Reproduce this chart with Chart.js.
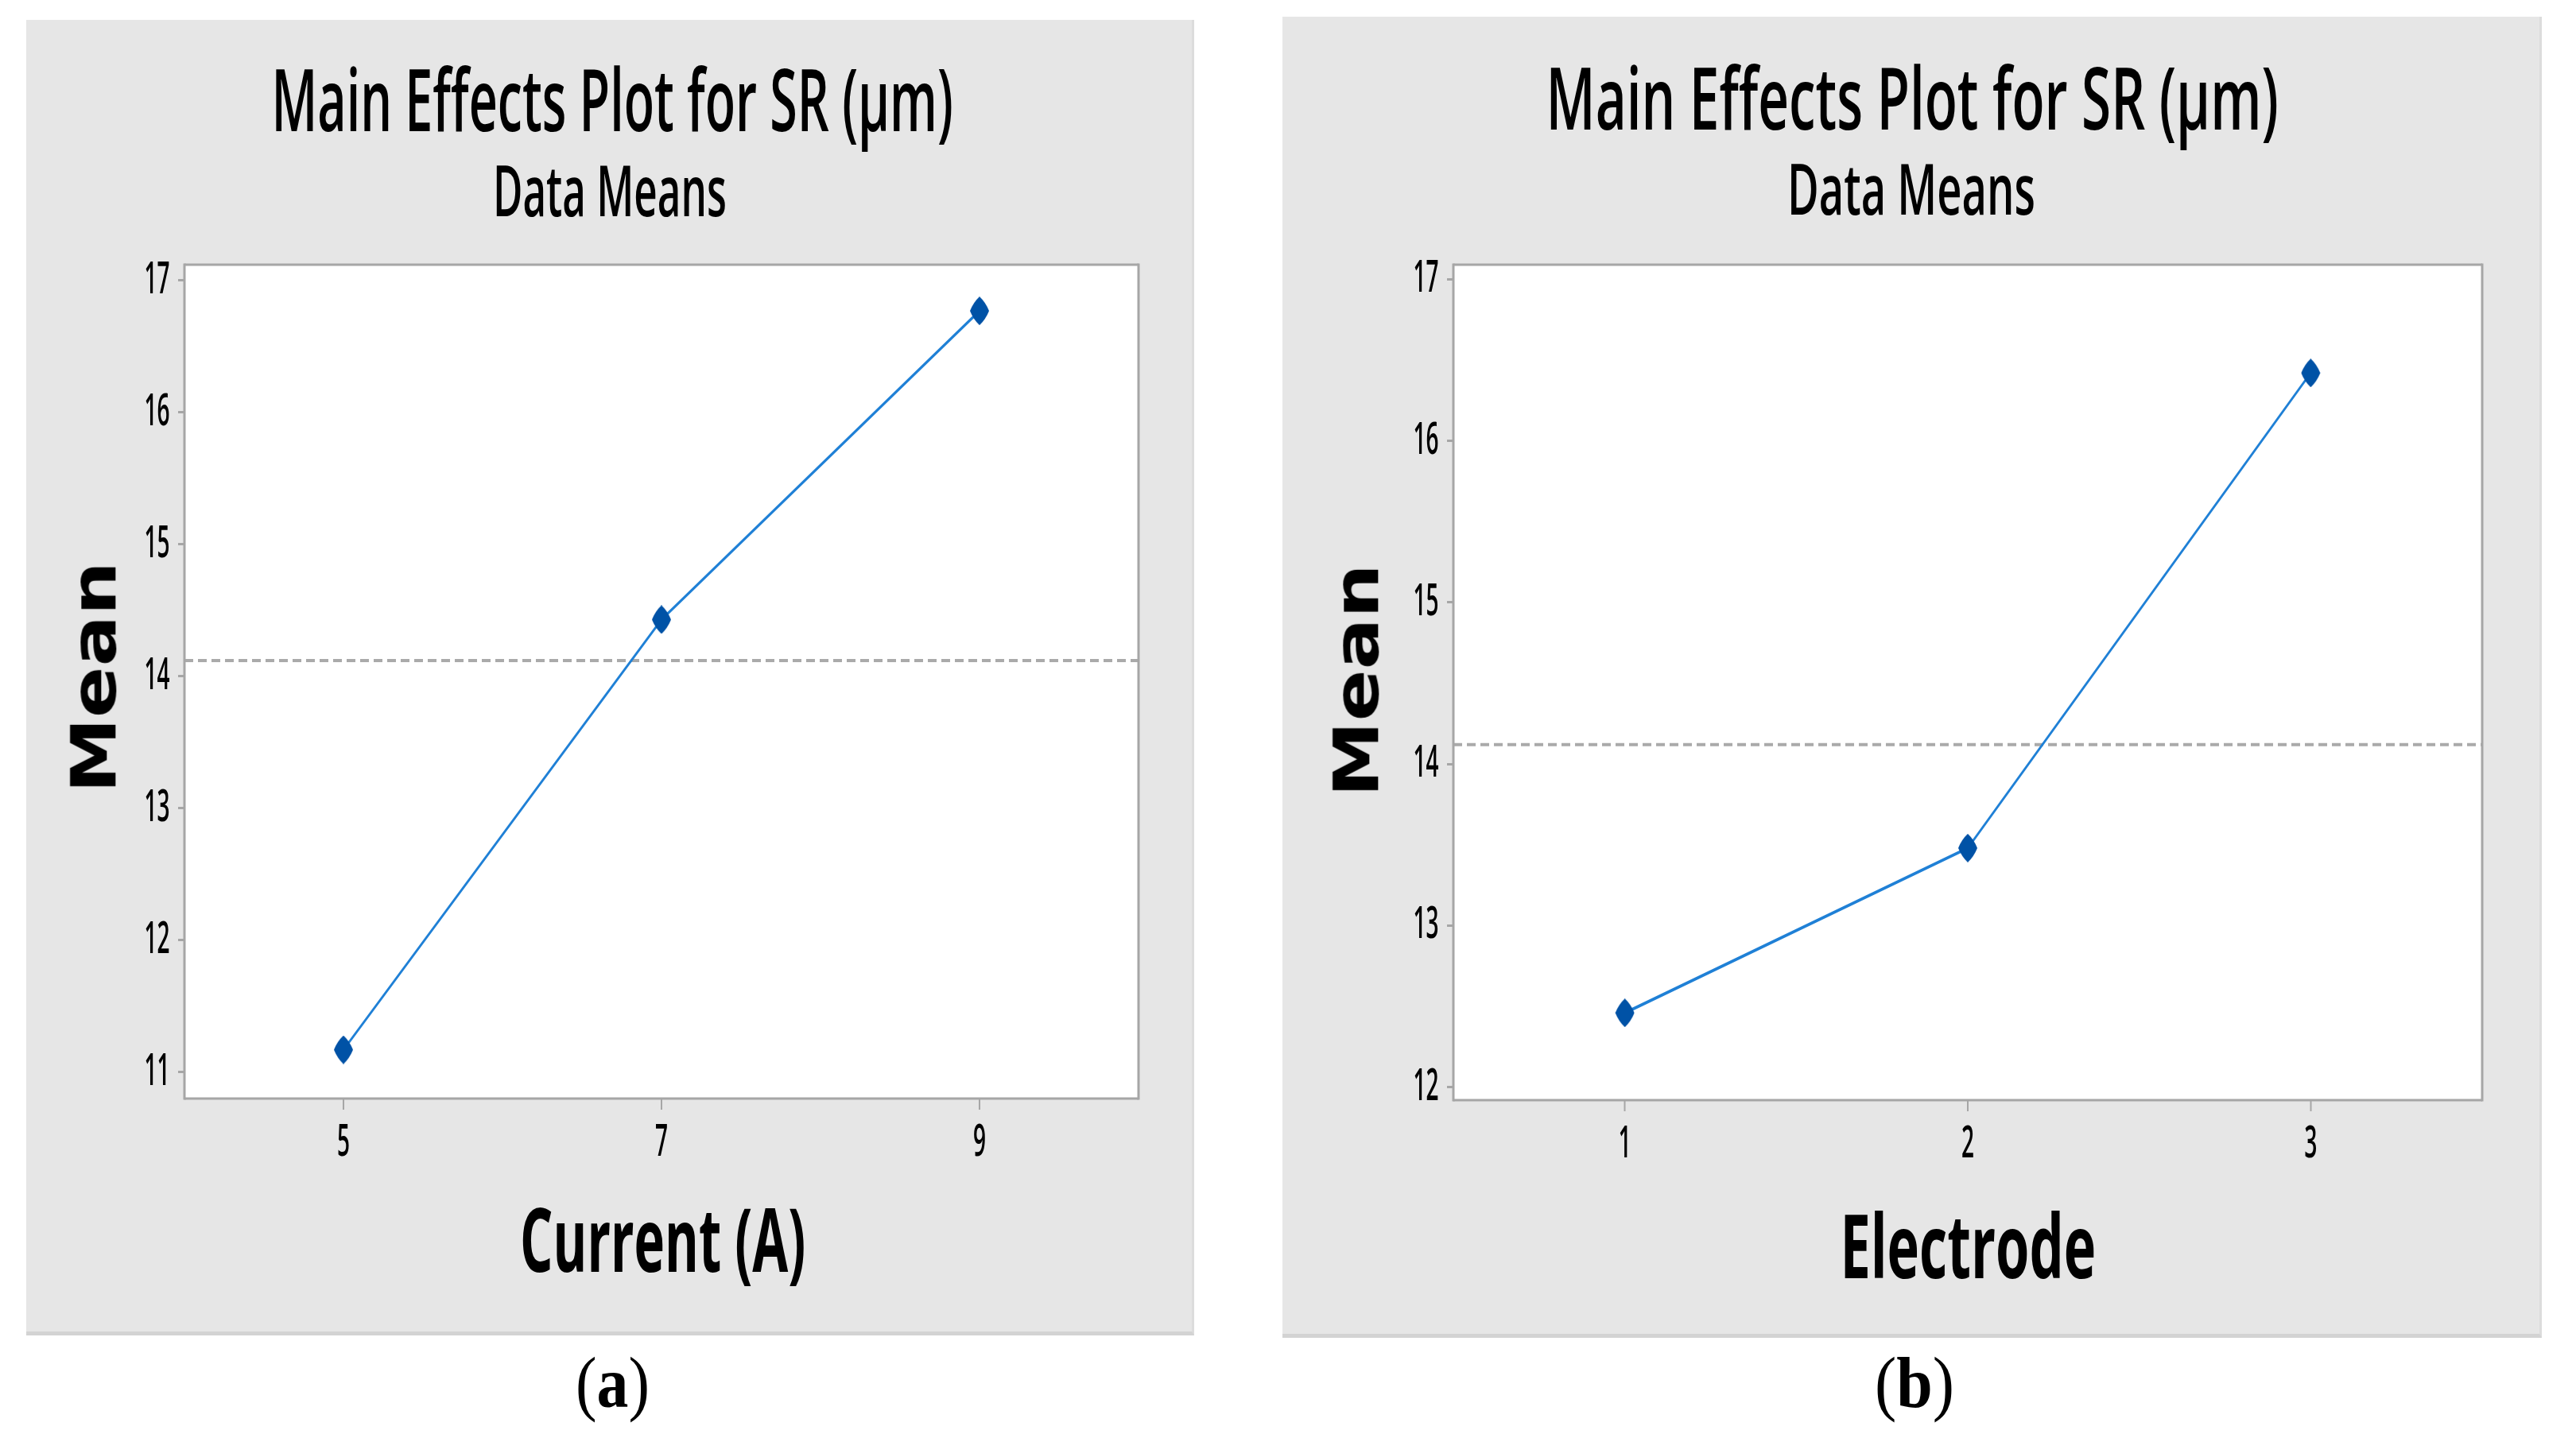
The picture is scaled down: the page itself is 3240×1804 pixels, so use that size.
<!DOCTYPE html>
<html><head><meta charset="utf-8">
<script src="https://cdn.jsdelivr.net/npm/chart.js@4.4.0/dist/chart.umd.min.js"></script>
<style>
html,body{margin:0;padding:0;background:#fff;}
body{width:3240px;height:1804px;position:relative;overflow:hidden;}
.panel{position:absolute;background:#e6e6e6;box-sizing:border-box;border-bottom:5px solid #d3d3d3;border-right:3px solid #dcdcdc;}
.txt{position:absolute;white-space:nowrap;line-height:1;color:#000;}
.cwrap{position:absolute;transform-origin:0 0;}
canvas{display:block;}
</style></head><body>
<div class="panel" style="left:33px;top:25px;width:1469px;height:1655px"></div>
<div class="panel" style="left:1613px;top:21px;width:1584px;height:1662px"></div>
<div class="cwrap" id="wa"><canvas id="ca"></canvas></div>
<div class="cwrap" id="wb"><canvas id="cb"></canvas></div>
<script>
// ---------------- data ----------------
const currentLevels = [5, 7, 9];
const srByCurrent = [11.17, 14.43, 16.77];
const electrodeLevels = [1, 2, 3];
const srByElectrode = [12.46, 13.48, 16.42];
const overallMean = 14.12;
const yTicksCurrent = [11, 12, 13, 14, 15, 16, 17];
const yTicksElectrode = [12, 13, 14, 15, 16, 17];
const titleText = 'Main Effects Plot for SR (\u03bcm)';
const subtitleText = 'Data Means';
const xTitleCurrent = 'Current (A)';
const xTitleElectrode = 'Electrode';
const yTitle = 'Mean';

// horizontal compression of chart canvases
const S = 0.5;

function diamondImage(wv, hv) {
  const c = document.createElement('canvas');
  const w = Math.round(wv / S), h = hv;
  c.width = w; c.height = h;
  const g = c.getContext('2d');
  g.fillStyle = '#0052a6';
  g.beginPath();
  g.moveTo(w / 2, 0);
  g.quadraticCurveTo(w * 0.82, h * 0.2, w, h / 2);
  g.quadraticCurveTo(w * 0.82, h * 0.8, w / 2, h);
  g.quadraticCurveTo(w * 0.18, h * 0.8, 0, h / 2);
  g.quadraticCurveTo(w * 0.18, h * 0.2, w / 2, 0);
  g.closePath();
  g.fill();
  return c;
}

const framePlugin = {
  id: 'frame',
  beforeDraw(chart) {
    const {ctx, chartArea: a} = chart;
    ctx.save();
    ctx.fillStyle = '#ffffff';
    ctx.fillRect(a.left, a.top, a.right - a.left, a.bottom - a.top);
    ctx.restore();
  },
  afterDraw(chart) {
    const {ctx, chartArea: a} = chart;
    ctx.save();
    ctx.strokeStyle = '#a6a6a6';
    ctx.lineWidth = 3;
    ctx.beginPath();
    ctx.moveTo(a.left, a.top); ctx.lineTo(a.right, a.top);
    ctx.moveTo(a.left, a.bottom); ctx.lineTo(a.right, a.bottom);
    ctx.stroke();
    ctx.lineWidth = 3 / S;
    ctx.beginPath();
    ctx.moveTo(a.left, a.top - 1.5); ctx.lineTo(a.left, a.bottom + 1.5);
    ctx.moveTo(a.right, a.top - 1.5); ctx.lineTo(a.right, a.bottom + 1.5);
    ctx.stroke();
    ctx.restore();
  }
};

function makeChart(canvasId, wrapId, o) {
  const wrap = document.getElementById(wrapId);
  wrap.style.left = o.L + 'px';
  wrap.style.top = o.T + 'px';
  wrap.style.transform = 'scaleX(' + S + ')';
  const cv = document.getElementById(canvasId);
  cv.width = o.Wc; cv.height = o.Hc;
  cv.style.width = o.Wc + 'px'; cv.style.height = o.Hc + 'px';
  const marker = diamondImage(24, 36);
  const pts = o.xs.map((x, i) => ({x: x, y: o.ys[i]}));
  new Chart(cv, {
    type: 'scatter',
    data: {
      datasets: [
        {
          data: pts, showLine: true, borderColor: '#1f80d6', borderWidth: 4,
          pointStyle: marker, pointRadius: 12, pointHoverRadius: 12,
          backgroundColor: '#0052a6', order: 0
        },
        {
          data: [{x: o.xmin, y: o.mean}, {x: o.xmax, y: o.mean}], showLine: true,
          borderColor: '#aaaaaa', borderWidth: 4, borderDash: [22, 12], pointRadius: 0,
          order: 1
        }
      ]
    },
    options: {
      responsive: false, animation: false, devicePixelRatio: 1,
      layout: {padding: {top: 33, right: 10, left: 0, bottom: 0}},
      plugins: {legend: {display: false}, tooltip: {enabled: false}, title: {display: false}},
      scales: {
        x: {
          type: 'linear', min: o.xmin, max: o.xmax,
          afterBuildTicks: s => { s.ticks = o.xs.map(v => ({value: v})); },
          afterFit: s => { s.height = 120; s.paddingLeft = 0; s.paddingRight = 0; },
          border: {display: false},
          grid: {drawOnChartArea: false, drawTicks: true, tickLength: 14, color: '#a6a6a6', lineWidth: 4},
          ticks: {color: '#000', padding: 8, font: {family: 'Open Sans', size: 56, weight: '600'}, maxRotation: 0}
        },
        y: {
          type: 'linear', min: o.ymin, max: o.ymax,
          afterBuildTicks: s => { s.ticks = o.yTicks.map(v => ({value: v})); },
          afterFit: s => { s.width = 264; s.paddingTop = 0; s.paddingBottom = 0; },
          border: {display: false},
          grid: {drawOnChartArea: false, drawTicks: true, tickLength: 16, color: '#a6a6a6', lineWidth: 3},
          ticks: {color: '#000', padding: 21, font: {family: 'Open Sans', size: 56, weight: '600'}}
        }
      }
    },
    plugins: [framePlugin]
  });
}

function placeText(html, o) {
  const el = document.createElement('div');
  el.className = 'txt';
  el.innerHTML = html;
  el.style.fontFamily = o.family;
  el.style.fontWeight = o.weight;
  el.style.fontSize = o.size + 'px';
  document.body.appendChild(el);
  const w = el.offsetWidth;
  const k = o.width / w;
  el.style.left = (o.cx - w / 2) + 'px';
  el.style.top = (o.baseline - o.ratio * o.size) + 'px';
  el.style.transformOrigin = '50% 50%';
  el.style.transform = 'scaleX(' + k + ')';
}

function placeRotated(text, o) {
  const el = document.createElement('div');
  el.className = 'txt';
  el.textContent = text;
  el.style.fontFamily = o.family;
  el.style.fontWeight = o.weight;
  el.style.fontSize = o.size + 'px';
  document.body.appendChild(el);
  const w = el.offsetWidth, h = el.offsetHeight;
  const k = o.length / w;
  el.style.left = (o.cx - w / 2) + 'px';
  el.style.top = (o.cy - h / 2) + 'px';
  el.style.transformOrigin = '50% 50%';
  el.style.transform = 'rotate(-90deg) scaleX(' + k + ')';
}

function init() {
  makeChart('ca', 'wa', {
    L: 100, T: 300, Wc: 2680, Hc: 1202,
    xs: currentLevels, ys: srByCurrent, mean: overallMean,
    xmin: 4, xmax: 10, ymin: 10.80, ymax: 17.12, yTicks: yTicksCurrent
  });
  makeChart('cb', 'wb', {
    L: 1696, T: 300, Wc: 2868, Hc: 1204,
    xs: electrodeLevels, ys: srByElectrode, mean: overallMean,
    xmin: 0.5, xmax: 3.5, ymin: 11.92, ymax: 17.09, yTicks: yTicksElectrode
  });
  const OS = '"Open Sans", sans-serif';
  placeText(titleText, {family: OS, weight: 600, size: 108, cx: 770, baseline: 166, width: 857, ratio: 0.888});
  placeText(titleText, {family: OS, weight: 600, size: 108, cx: 2405, baseline: 164, width: 921, ratio: 0.888});
  placeText(subtitleText, {family: OS, weight: 600, size: 88, cx: 767, baseline: 272, width: 294, ratio: 0.888});
  placeText(subtitleText, {family: OS, weight: 600, size: 88, cx: 2404, baseline: 270, width: 312, ratio: 0.888});
  placeText(xTitleCurrent, {family: OS, weight: 700, size: 112, cx: 833, baseline: 1600, width: 359, ratio: 0.888});
  placeText(xTitleElectrode, {family: OS, weight: 700, size: 112, cx: 2475, baseline: 1608, width: 322, ratio: 0.888});
  const DJ = '"DejaVu Sans", sans-serif';
  placeRotated(yTitle, {family: DJ, weight: 700, size: 78, cx: 118, cy: 852, length: 292});
  placeRotated(yTitle, {family: DJ, weight: 700, size: 78, cx: 1706, cy: 856, length: 294});
  const LS = '"Liberation Serif", serif';
  placeText('(<b>a</b>)', {family: LS, weight: 400, size: 90, cx: 770, baseline: 1770, width: 93, ratio: 0.8375});
  placeText('(<b>b</b>)', {family: LS, weight: 400, size: 90, cx: 2408, baseline: 1770, width: 100, ratio: 0.8375});
}

Promise.all([
  document.fonts.load('600 108px "Open Sans"'),
  document.fonts.load('700 112px "Open Sans"'),
  document.fonts.load('700 78px "DejaVu Sans"'),
  document.fonts.load('400 90px "Liberation Serif"'),
  document.fonts.load('700 90px "Liberation Serif"')
]).then(init, init);
</script>
</body></html>
